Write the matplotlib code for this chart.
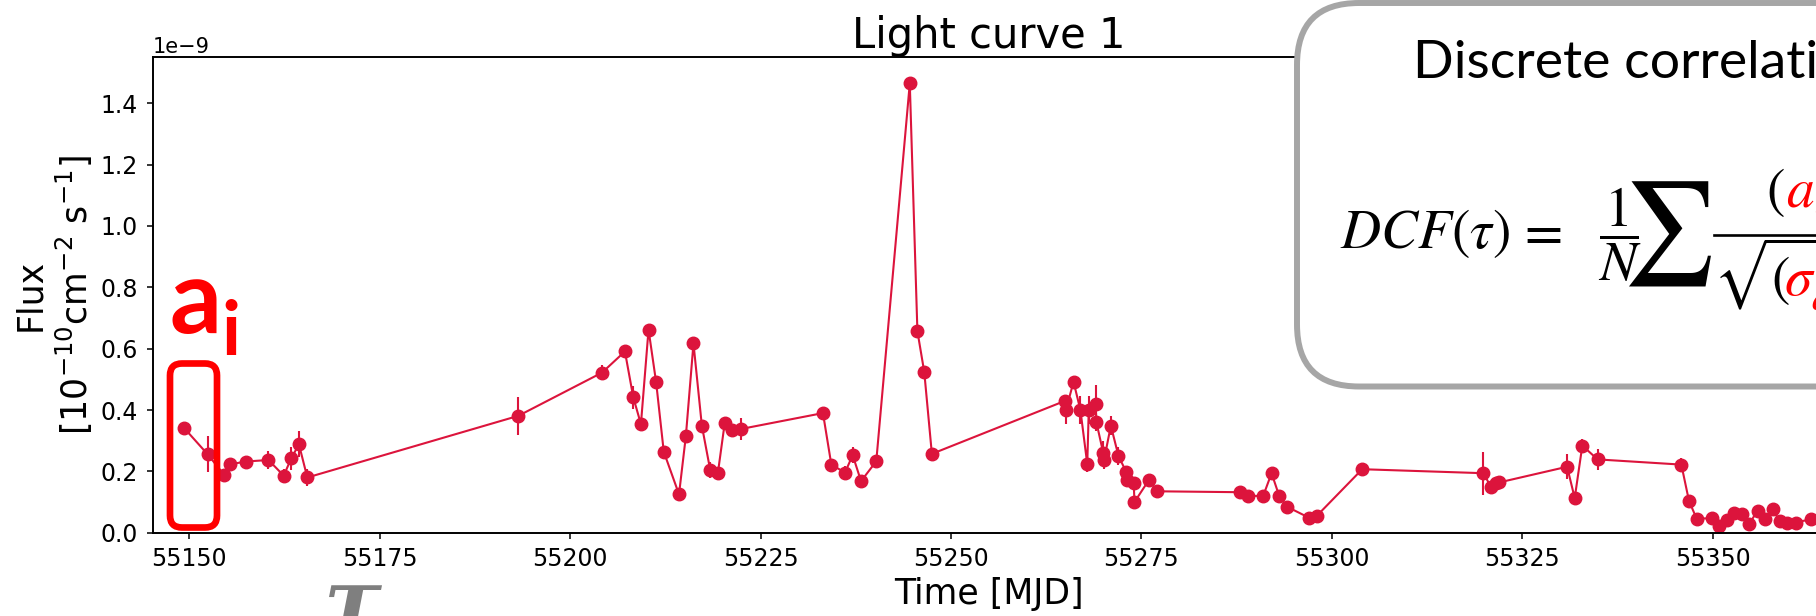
import numpy as np
import matplotlib
matplotlib.use("Agg")
import matplotlib.pyplot as plt
from matplotlib.patches import FancyBboxPatch
from matplotlib.lines import Line2D
from matplotlib.transforms import IdentityTransform

# light curve (flux in units of 1e-9)
time = [55149.3, 55152.4, 55154.6, 55155.4, 55157.4, 55160.4, 55162.4, 55163.4, 55164.4, 55165.5,
        55193.2, 55204.2, 55207.2, 55208.3, 55209.3, 55210.3, 55211.3, 55212.3, 55214.3, 55215.2,
        55216.2, 55217.3, 55218.4, 55219.4, 55220.3, 55221.2, 55222.4, 55233.2, 55234.3, 55236.1,
        55237.1, 55238.2, 55240.2, 55244.6, 55245.6, 55246.5, 55247.5, 55265.0, 55265.1, 55266.1,
        55267.0, 55267.9, 55268.1, 55269.0, 55269.1, 55270.0, 55270.1, 55271.0, 55272.0, 55273.0,
        55273.1, 55274.0, 55274.1, 55276.0, 55277.1, 55288.0, 55289.0, 55291.0, 55292.1, 55293.1,
        55294.1, 55297.0, 55298.0, 55304.0, 55319.9, 55320.9, 55321.6, 55322.0, 55330.9, 55331.9,
        55332.9, 55334.9, 55345.9, 55346.9, 55347.9, 55349.9, 55350.9, 55351.9, 55352.8, 55353.8,
        55354.8, 55355.9, 55356.9, 55357.9, 55358.8, 55359.8, 55360.9, 55362.9]
flux = [0.342, 0.256, 0.188, 0.223, 0.232, 0.237, 0.186, 0.243, 0.288, 0.180,
        0.381, 0.522, 0.591, 0.441, 0.354, 0.662, 0.490, 0.264, 0.125, 0.315,
        0.617, 0.349, 0.204, 0.194, 0.357, 0.335, 0.338, 0.390, 0.222, 0.196,
        0.253, 0.168, 0.233, 1.465, 0.657, 0.524, 0.257, 0.430, 0.400, 0.492,
        0.400, 0.224, 0.400, 0.420, 0.360, 0.260, 0.237, 0.349, 0.250, 0.199,
        0.172, 0.161, 0.100, 0.172, 0.135, 0.132, 0.120, 0.120, 0.194, 0.120,
        0.085, 0.049, 0.054, 0.207, 0.194, 0.150, 0.161, 0.164, 0.215, 0.113,
        0.284, 0.239, 0.222, 0.104, 0.046, 0.047, 0.022, 0.041, 0.063, 0.061,
        0.028, 0.072, 0.044, 0.076, 0.038, 0.031, 0.033, 0.044]
flux_err = [0.010, 0.059, 0.015, 0.012, 0.012, 0.030, 0.022, 0.038, 0.042, 0.028,
            0.061, 0.025, 0.010, 0.037, 0.012, 0.010, 0.010, 0.010, 0.010, 0.010,
            0.010, 0.010, 0.025, 0.010, 0.020, 0.010, 0.035, 0.015, 0.010, 0.020,
            0.027, 0.010, 0.015, 0.010, 0.010, 0.010, 0.010, 0.020, 0.045, 0.015,
            0.045, 0.025, 0.045, 0.060, 0.030, 0.040, 0.030, 0.030, 0.030, 0.020,
            0.020, 0.020, 0.020, 0.010, 0.010, 0.010, 0.010, 0.010, 0.020, 0.010,
            0.015, 0.010, 0.010, 0.010, 0.070, 0.010, 0.010, 0.010, 0.040, 0.010,
            0.020, 0.035, 0.020, 0.010, 0.010, 0.010, 0.010, 0.010, 0.010, 0.010,
            0.010, 0.010, 0.010, 0.010, 0.010, 0.010, 0.010, 0.010]

W, H = 1816, 616
fig = plt.figure(figsize=(W / 100, H / 100), dpi=100)
ax = fig.add_axes([152.7 / W, 83.3 / H, (1825.3 - 152.7) / W, 475.7 / H])

t = np.array(time)
f = np.array(flux) * 1e-9
e = np.array(flux_err) * 1e-9
ax.errorbar(t, f, yerr=e, fmt='o-', color='crimson', ms=9, lw=1.5,
            elinewidth=1.5, capsize=0)

ax.set_xlim(55145.2, 55364.8)
ax.set_ylim(0, 1.551e-9)
ax.set_xticks([55150, 55175, 55200, 55225, 55250, 55275, 55300, 55325, 55350])
ax.tick_params(labelsize=17, length=4, width=1.1, pad=6.5)
for s in ax.spines.values():
    s.set_linewidth(1.4)
ax.yaxis.get_offset_text().set_fontsize(15)

ax.set_title("Light curve 1", fontsize=30)
ax.set_xlabel("Time [MJD]", fontsize=25)
ax.set_ylabel("Flux\n$[10^{-10}\\mathrm{cm}^{-2}\\ \\mathrm{s}^{-1}]$", fontsize=25)

px = IdentityTransform()

# red box around the first points + a_i label
fig.add_artist(FancyBboxPatch((170, H - 527.5), 47, 164,
                              boxstyle="round,pad=0,rounding_size=12",
                              lw=4.8, ec='#FF0000', fc='none', transform=px, zorder=6))
fig.text(170, H - 333, "a", fontsize=74, family='Lato', weight='bold', color='#FF0000',
         ha='left', va='baseline', transform=px, zorder=10)
fig.text(221, H - 355, "i", fontsize=54, family='Lato', weight='bold', color='#FF0000',
         ha='left', va='baseline', transform=px, zorder=10)

# tau below the axis
fig.text(324, H - 630, "τ", fontsize=62, family='DejaVu Serif', weight='bold', style='italic',
         color='#7F7F7F', ha='left', va='baseline', transform=px, zorder=10)

# DCF call-out box
fig.add_artist(FancyBboxPatch((1297, H - 386.5), 900, 383.5,
                              boxstyle="round,pad=0,rounding_size=62",
                              lw=4.3, ec='#A6A6A6', fc='white', transform=px, zorder=5))
fig.text(1413, H - 78, "Discrete correlation function", fontsize=38.5, family='Lato',
         ha='left', va='baseline', transform=px, zorder=10)

mk = dict(fontsize=40, math_fontfamily='stix', ha='left', va='baseline', transform=px, zorder=10)
fig.text(1340, H - 248, r"$DCF(\tau)$", **mk)
fig.text(1516, H - 248, r"$=$", **mk)
fig.text(1598, H - 248, r"$\dfrac{1}{N}$", **mk)
fig.text(1622, H - 234, r"$\sum$", fontsize=74, math_fontfamily='stix',
         ha='left', va='center', transform=px, zorder=10)
fig.add_artist(Line2D([1714, 1830], [H - 234.6, H - 234.6], lw=1.9, color='black',
                      transform=px, zorder=10))
fig.text(1766, H - 207, r"$($", **mk)
fig.text(1786, H - 207, r"$a_i$", color='#FF0000', **mk)
fig.text(1713, H - 295, r"$\sqrt{(\qquad\qquad\qquad)}$", **mk)
fig.text(1784, H - 295, r"$\sigma_a^2$", color='#FF0000', **mk)

fig.savefig("out.png", dpi=100)
